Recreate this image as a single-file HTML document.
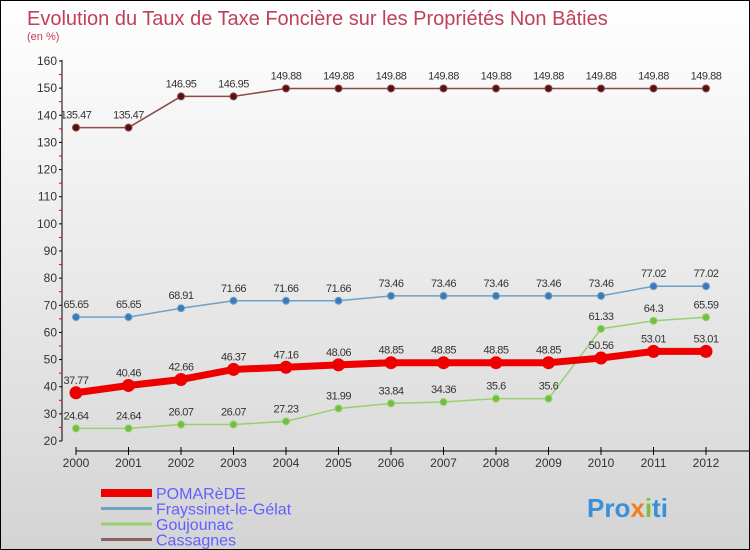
<!DOCTYPE html>
<html><head><meta charset="utf-8"><style>
body{margin:0}
#wrap{width:748px;height:548px;border:1px solid #000;background:linear-gradient(#fff,#f2f2f2 30%,#d4d4d4);position:relative;overflow:hidden;font-family:"Liberation Sans",sans-serif}
</style></head><body>
<div id="wrap">
<svg id="svg" width="748" height="548" style="position:absolute;left:0;top:0">
<text x="26" y="24" font-size="20" fill="#c0405a">Evolution du Taux de Taxe Foncière sur les Propriétés Non Bâties</text>
<text x="26" y="39" font-size="11" fill="#c0405a">(en %)</text>
<text x="586" y="516" font-size="26" font-weight="bold" fill="#3a8fd8">Pro<tspan fill="#f08020">x</tspan><tspan fill="#7cc040">i</tspan>ti</text>
</svg>
</div>
<script>
const years=[2000,2001,2002,2003,2004,2005,2006,2007,2008,2009,2010,2011,2012];
const pomarede=[37.77,40.46,42.66,46.37,47.16,48.06,48.85,48.85,48.85,48.85,50.56,53.01,53.01];
const frayssinet=[65.65,65.65,68.91,71.66,71.66,71.66,73.46,73.46,73.46,73.46,73.46,77.02,77.02];
const goujounac=[24.64,24.64,26.07,26.07,27.23,31.99,33.84,34.36,35.6,35.6,61.33,64.3,65.59];
const cassagnes=[135.47,135.47,146.95,146.95,149.88,149.88,149.88,149.88,149.88,149.88,149.88,149.88,149.88];
const yTicks=[20,30,40,50,60,70,80,90,100,110,120,130,140,150,160];
const NS="http://www.w3.org/2000/svg",svg=document.getElementById('svg');
const X=i=>75+i*52.5, Y=v=>440-(v-20)*380/140;
function mk(t,a,p){const e=document.createElementNS(NS,t);for(const k in a)e.setAttribute(k,a[k]);(p||svg).appendChild(e);return e;}
// axes
let ya=mk('line',{x1:61,y1:59,x2:61,y2:440,stroke:'#000'});

yTicks.forEach(v=>{mk('line',{x1:58,y1:Y(v),x2:61,y2:Y(v),stroke:'#000'});
 if(v<160)mk('line',{x1:58,y1:Y(v+5),x2:61,y2:Y(v+5),stroke:'#e00'});
 const t=mk('text',{x:56,y:Y(v)+4,'font-size':12,'text-anchor':'end',fill:'#333'});t.textContent=v;
 });
let xa=mk('line',{x1:75,y1:450,x2:748,y2:450,stroke:'#000'});

years.forEach((y,i)=>{mk('line',{x1:X(i),y1:446,x2:X(i),y2:454,stroke:'#000'});
 const t=mk('text',{x:X(i),y:466,'font-size':12,'text-anchor':'middle',fill:'#333'});t.textContent=y;
 });
function series(d,col,dot,lw,r,name){
 const g=mk('g',{});
 mk('polyline',{points:d.map((v,i)=>X(i)+','+Y(v)).join(' '),fill:'none',stroke:col,'stroke-width':lw},g);
 d.forEach((v,i)=>{const c=mk('circle',{cx:X(i),cy:Y(v),r:r,fill:dot,stroke:col},g);
  
  const t=mk('text',{x:X(i),y:Y(v)-9,'font-size':11,'text-anchor':'middle',fill:'#333','letter-spacing':'-0.5'},g);t.textContent=v;
  });
}
series(cassagnes,'#8a4a4a','#5a1010',1.5,3.5,'cassagnes');
series(frayssinet,'#70a0c8','#3a7ab8',1.5,3.5,'frayssinet');
series(goujounac,'#98d070','#70c040',1.5,3.5,'goujounac');
series(pomarede,'#ee0000','#ee0000',7,6,'pomarede');
const legend=[['POMARèDE','#ee0000',8],['Frayssinet-le-Gélat','#70a0c8',3],['Goujounac','#98d070',3],['Cassagnes','#8a6060',3]];
legend.forEach((l,i)=>{const y=492+i*15.5;
 const g=mk('g',{});
 mk('line',{x1:100,y1:y,x2:151,y2:y,stroke:l[1],'stroke-width':l[2]},g);
 const t=mk('text',{x:155,y:y+6,'font-size':16,fill:'#6060ff'},g);t.textContent=l[0];});
</script>
</body></html>
